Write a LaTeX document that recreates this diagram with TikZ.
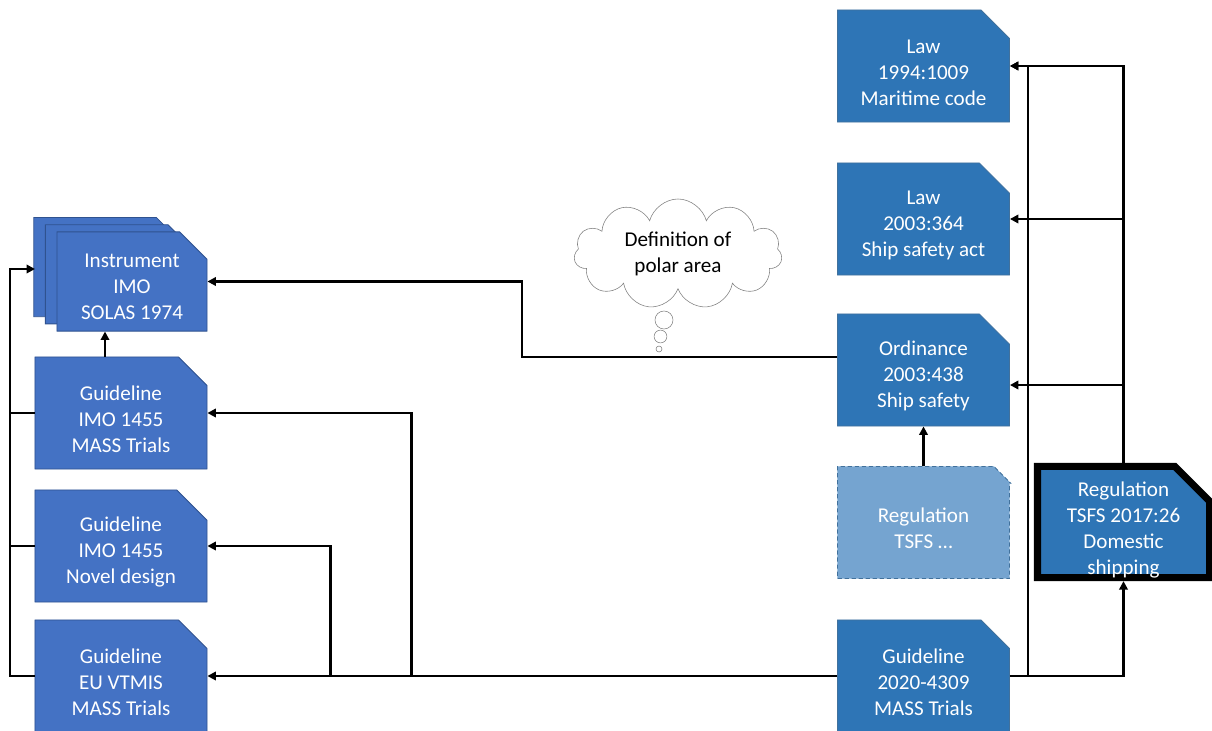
\documentclass[tikz,border=0pt]{standalone}
\usepackage{fontspec}
\setmainfont{Carlito}
\usetikzlibrary{arrows.meta,shapes.misc,shapes.symbols,shadows}
\definecolor{imoblue}{HTML}{4472C4}
\definecolor{imoline}{HTML}{2F528F}
\definecolor{sweblue}{HTML}{2E75B6}
\definecolor{sweline}{HTML}{41719C}
\definecolor{draftblue}{HTML}{75A4D0}
\tikzset{
  doc/.style={chamfered rectangle, chamfered rectangle corners=north east,
    chamfered rectangle xsep=0.44cm, chamfered rectangle ysep=0.43cm,
    minimum width=4.3cm, minimum height=2.8cm, inner xsep=0pt, inner ysep=-20pt, align=center,
    text=white, text height=56pt, font=\fontsize{15}{18.5}\selectfont, line width=0.6pt},
  imodoc/.style={doc, fill=imoblue, draw=imoline},
  swedoc/.style={doc, fill=sweblue, draw=sweline},
  arr/.style={line width=1.5pt, -{Triangle[length=6pt,width=6pt]}},
  link/.style={line width=1.5pt},
}
\begin{document}
\begin{tikzpicture}[x=0.025cm, y=-0.025cm]
  \useasboundingbox (0,0) rectangle (1212,731);
  % international documents
  \node[imodoc, minimum width=3.75cm, minimum height=2.48cm, text height=54.5pt,
    double copy shadow={shadow xshift=-0.29cm, shadow yshift=0.18cm}] (instr) at (132,281.5) {Instrument\\IMO\\SOLAS 1974};
  \node[imodoc] (glA) at (121,413) {Guideline\\IMO 1455\\MASS Trials};
  \node[imodoc] (glB) at (121,546) {Guideline\\IMO 1455\\Novel design};
  \node[imodoc] (glC) at (121,676) {Guideline\\EU VTMIS\\MASS Trials};
  % swedish documents
  \node[swedoc] (law1) at (923.5,66) {Law\\1994:1009\\Maritime code};
  \node[swedoc] (law2) at (923.5,219) {Law\\2003:364\\Ship safety act};
  \node[swedoc] (ord) at (923.5,370) {Ordinance\\2003:438\\Ship safety};
  \node[swedoc, fill=draftblue, densely dashed, text height=37.5pt] (draft) at (923.5,522.5) {Regulation\\TSFS …};
  \node[swedoc] (gl2020) at (923.5,676) {Guideline\\2020-4309\\MASS Trials};
  \node[swedoc, draw=black, line width=5pt, minimum height=2.78cm, text height=77pt] (tsfs) at (1123.5,522) {Regulation\\TSFS 2017:26\\Domestic\\shipping};
  % the cloud
  \node[cloud, cloud puffs=11, cloud ignores aspect, minimum width=5.2cm, minimum height=2.75cm,
    draw=gray, fill=white, align=center, font=\fontsize{15}{18.5}\selectfont] (polar) at (678,254) {Definition of\\polar area};
  \node[circle, draw=gray, minimum size=0.45cm, inner sep=0pt] (bubA) at (664,320) {};
  \node[circle, draw=gray, minimum size=0.32cm, inner sep=0pt] (bubB) at (660.5,336.5) {};
  \node[circle, draw=gray, minimum size=0.15cm, inner sep=0pt] (bubC) at (659,349) {};
  % links to the instrument
  \coordinate (lbus) at (10,269);
  \coordinate (instrback) at (35,269);
  \coordinate (up) at (105,0);
  \draw[link] (glA.west) -- (glA.west -| lbus);
  \draw[link] (glB.west) -- (glB.west -| lbus);
  \draw[arr] (glC.west) -| (lbus) -- (instrback);
  \draw[arr] (glA.north -| up) -- (instr.south -| up);
  \draw[arr] ([yshift=0.325cm]ord.west) -- ++(-315,0) |- (instr.east);
  % guideline 2020-4309
  \draw[arr] (gl2020.west) -- (glC.east);
  \draw[arr] (glC.east) ++(204,0) |- (glA.east);
  \draw[arr] (glC.east) ++(123,0) |- (glB.east);
  \draw[arr] (gl2020.east) -| (tsfs.south);
  \draw[arr] (gl2020.east) ++(18,0) |- (law1.east);
  % regulations upwards
  \draw[arr] (draft.north) -- (ord.south);
  \draw[arr] (tsfs.north) |- (law1.east);
  \draw[arr] (tsfs.north) |- (law2.east);
  \draw[arr] (tsfs.north) |- ([yshift=-0.375cm]ord.east);
\end{tikzpicture}
\end{document}
